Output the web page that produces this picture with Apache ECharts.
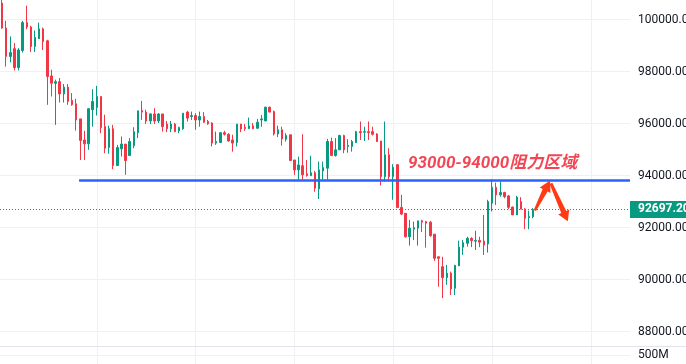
<!DOCTYPE html>
<html><head><meta charset="utf-8">
<script src="https://cdn.jsdelivr.net/npm/echarts@6/dist/echarts.min.js"></script>
<style>html,body{margin:0;padding:0;background:#fff}#c{width:686px;height:364px}</style>
</head><body><div id="c"></div>
<script>
// ---- data (hourly candles) ----
const opens  = [100630,99670,98580,98880,98150,98810,99880,99710,98960,99260,99640,99180,97830,97550,97610,97140,97400,96890,96760,96180,95370,95220,96530,96620,97040,95890,95080,95800,94390,95030,95210,94770,95150,95650,96500,96440,96100,96370,96100,96370,95980,95800,95980,95720,95800,96440,96270,96310,96140,96270,96080,96020,95250,95270,95650,95590,95370,95270,95980,95860,95800,95910,95820,96140,96100,96630,96460,95600,95760,95400,95570,94600,94220,94380,94070,94000,94110,93490,94180,94285,95310,94770,94990,95540,95120,95120,95270,95690,95670,95690,95690,95600,95330,93960,94800,93960,94420,92780,92550,91650,91940,91980,92260,92230,92210,91750,90880,90500,90080,90250,89670,90530,91250,91400,91590,91480,91510,91480,91370,92940,93550,93260,93350,93220,92790,92490,93000,92710,92380,92420];
const closes = [99670,98580,98730,98150,98830,99880,99710,98960,99310,99640,99150,97810,97550,97610,97140,97400,96850,96730,96140,95350,95220,96570,96850,97040,95850,95050,95800,94390,95080,95210,94580,95310,95690,96490,96440,96100,96370,96100,96370,95880,95800,95980,95690,95850,96400,96210,96310,96140,96270,96050,95990,95250,95310,95650,95590,95330,95250,95980,95790,95800,95910,95800,96050,96180,96630,96440,95600,95760,95410,95540,94580,94220,94410,94030,94000,94110,93520,94220,94310,95310,94770,94990,95540,94990,95160,95310,95690,95650,95690,95650,95590,95310,93960,94800,93960,94320,92770,92520,91650,91980,92000,92260,92210,92170,91690,90820,90820,90080,90250,89640,90550,91250,91420,91590,91500,91510,91440,91330,93000,93550,93260,93350,93190,92780,92490,93170,92710,92360,92430,92697.2];
const lows   = [99650,98190,98350,98040,98040,98730,99630,98750,98750,99260,98830,96720,97040,95950,96810,96810,96720,96680,95730,94600,94600,94990,95880,96310,95630,94860,94840,94250,94370,94730,94030,94760,95050,95440,96140,95980,95980,95980,96020,95690,95670,95670,95670,95630,95760,96080,96140,95760,95880,96020,95950,95120,95180,95250,95540,95310,94920,95120,95670,95720,95800,95800,95800,95880,96100,96440,95540,95480,95150,95310,94570,94030,93840,93840,93960,93980,93380,93100,93840,93840,94770,94730,94990,94860,94880,94920,95250,95370,95330,95370,95540,95290,93620,93770,93840,93070,92770,92480,91620,91310,91520,91310,91830,91230,91650,90720,89730,89290,89800,89410,89410,90530,90950,91270,91250,91140,91250,90950,91040,92620,92870,93190,93130,92710,92490,92490,92710,91940,91940,92360];
const highs  = [100750,99950,99350,99090,98900,99950,100530,99760,99580,99880,99690,99220,98070,97690,97750,97520,97520,97170,96950,96180,95720,96590,97320,97450,97040,96340,95920,95950,95180,95500,95210,95440,95860,96490,96870,96530,96400,96590,96400,96370,96100,96100,96020,95880,96400,96490,96460,96400,96460,96440,96140,96050,95690,95670,95720,95630,95570,95980,95980,95980,96230,96020,96180,96330,96650,96650,96500,95920,95880,95630,95570,94600,94730,95590,94600,94760,94180,94540,94540,95410,95460,95440,95570,95570,95400,95370,95720,96080,95880,96080,95880,95630,95330,96080,95050,94440,94420,93260,92550,92300,92230,92260,92300,92260,92260,91750,90880,90880,90570,90310,90570,91500,91530,91650,91630,91880,91650,92490,93070,93860,93730,93770,93380,93260,92810,93220,93170,92750,92650,92750];
const categories = Array.from({length: 153}, (_, i) => 'h' + i);   // 130 candles + empty space on the right
const priceTicks = [88000, 100000, 2000];   // min, max, step
const volumeTicks = [0, 1000, 500];
const lastPrice = 92697.2;
const resistancePrice = 93810;
const resistanceStart = 18.7;
const noteText = '93000-94000阻力区域';
const notePos = [98.6, 94440];
const arrowUp = [[129.4, 92660], [133.1, 93810]];
const arrowDown = [[133.3, 93700], [137.4, 92250]];

// ---- chart ----
const UP = '#089981', DOWN = '#F23645', GRID = '#eef0f3', TXT = '#131722';
const FONT = 'Roboto, "Noto Sans CJK SC", sans-serif';
const chart = echarts.init(document.getElementById('c'), null, {renderer: 'canvas'});
const N = categories.length;
const half = 630 / N / 2;
const candleData = opens.map((o, i) => [o, closes[i], lows[i], highs[i]]);

chart.setOption({
  animation: false,
  backgroundColor: '#ffffff',
  grid: [
    {left: 0, right: 56, top: 19.5, bottom: 32.3, containLabel: false, outerBoundsMode: 'none'},
    {left: half, right: 56 + half, top: 0, bottom: 0, containLabel: false, outerBoundsMode: 'none'},
    {left: 0, right: 56, top: 346.7, bottom: 0, containLabel: false, outerBoundsMode: 'none'}
  ],
  xAxis: [
    {type: 'category', gridIndex: 0, data: categories, boundaryGap: true, show: false},
    {type: 'category', gridIndex: 1, data: categories, boundaryGap: false,
      axisLine: {show: false}, axisTick: {show: false}, axisLabel: {show: false},
      splitLine: {show: true, interval: (i) => i % 24 === 23, lineStyle: {color: GRID, width: 1}}},
    {type: 'category', gridIndex: 2, data: categories, show: false}
  ],
  yAxis: [
    {type: 'value', gridIndex: 0, position: 'right', min: priceTicks[0], max: priceTicks[1], interval: priceTicks[2],
      axisLine: {show: false}, axisTick: {show: false},
      axisLabel: {color: TXT, fontSize: 12, fontFamily: FONT, margin: 8, formatter: v => v.toFixed(2)},
      splitLine: {lineStyle: {color: GRID, width: 1}}},
    {type: 'value', gridIndex: 1, show: false, splitLine: {show: false}},
    {type: 'value', gridIndex: 2, position: 'right', min: volumeTicks[0], max: volumeTicks[1], interval: volumeTicks[2],
      axisLine: {show: false}, axisTick: {show: false},
      axisLabel: {color: TXT, fontSize: 12, fontFamily: FONT, margin: 8, showMinLabel: false, showMaxLabel: false, formatter: v => v + 'M'},
      splitLine: {lineStyle: {color: GRID, width: 1}}}
  ],
  series: [{
    type: 'candlestick', xAxisIndex: 0, yAxisIndex: 0, data: candleData,
    barWidth: 2, clip: false,
    itemStyle: {color: UP, color0: DOWN, borderColor: UP, borderColor0: DOWN, borderWidth: 1},
    markLine: {
      silent: true, symbol: ['none', 'none'], animation: false,
      data: [{yAxis: lastPrice}],
      lineStyle: {color: UP, type: [1, 2], width: 1},
      label: {show: true, position: 'end', distance: 0, formatter: lastPrice.toFixed(2),
        backgroundColor: UP, color: '#fff', fontWeight: 'bold', fontSize: 12, fontFamily: FONT,
        padding: [2, 4, 1, 8], lineHeight: 14}
    }
  }]
});

function px(idx, price) {
  const i0 = Math.floor(idx), f = idx - i0;
  const a = chart.convertToPixel({xAxisIndex: 0, yAxisIndex: 0}, [i0, price]);
  const b = chart.convertToPixel({xAxisIndex: 0, yAxisIndex: 0}, [i0 + 1, price]);
  return [a[0] + (b[0] - a[0]) * f, a[1]];
}
function arrow(t, h, w0, w1, hw, hl) {
  const dx = h[0] - t[0], dy = h[1] - t[1], L = Math.hypot(dx, dy);
  const ux = dx / L, uy = dy / L, nx = -uy, ny = ux;
  const bx = h[0] - ux * hl, by = h[1] - uy * hl;
  return [
    [t[0] + nx * w0 / 2, t[1] + ny * w0 / 2],
    [bx + nx * w1 / 2, by + ny * w1 / 2],
    [bx + nx * hw / 2, by + ny * hw / 2],
    [h[0], h[1]],
    [bx - nx * hw / 2, by - ny * hw / 2],
    [bx - nx * w1 / 2, by - ny * w1 / 2],
    [t[0] - nx * w0 / 2, t[1] - ny * w0 / 2]
  ];
}

const lineA = px(resistanceStart, resistancePrice);
const lineB = px(N - 0.5, resistancePrice);
const np = px(notePos[0], notePos[1]);
const upT = px(arrowUp[0][0], arrowUp[0][1]), upH = px(arrowUp[1][0], arrowUp[1][1]);
const dnT = px(arrowDown[0][0], arrowDown[0][1]), dnH = px(arrowDown[1][0], arrowDown[1][1]);
const W = chart.getWidth();

chart.setOption({
  graphic: [
    {type: 'line', silent: true, z: 1, shape: {x1: 0, y1: 346.5, x2: W, y2: 346.5}, style: {stroke: '#e0e3eb', lineWidth: 1}},
    {type: 'line', silent: true, z: 10, shape: {x1: lineA[0], y1: lineA[1], x2: lineB[0], y2: lineB[1]}, style: {stroke: '#2962FF', lineWidth: 2.5}},
    {type: 'text', silent: true, z: 10, x: np[0], y: np[1],
      style: {text: noteText, fill: '#F23645', opacity: 0.92, fontSize: 17, fontWeight: 'bold', fontStyle: 'italic', fontFamily: FONT, align: 'left', verticalAlign: 'middle'}},
    {type: 'polygon', silent: true, z: 10, shape: {points: arrow(upT, upH, 2.5, 5.5, 12, 11)}, style: {fill: '#FF3B16'}},
    {type: 'polygon', silent: true, z: 10, shape: {points: arrow(dnT, dnH, 3, 5.5, 12, 10)}, style: {fill: '#FF3B16'}}
  ]
});
</script>
</body></html>
